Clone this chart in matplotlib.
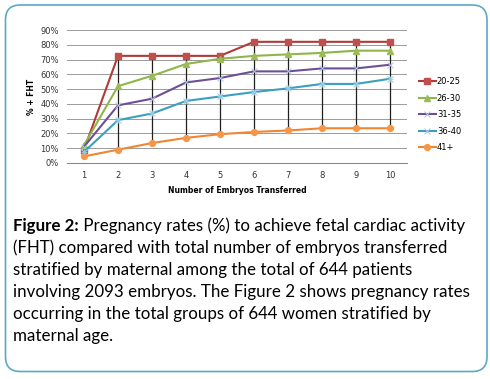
import matplotlib
matplotlib.use("Agg")
import matplotlib.pyplot as plt
from matplotlib.patches import FancyBboxPatch
import numpy as np

categories = [1, 2, 3, 4, 5, 6, 7, 8, 9, 10]
s_20_25 = [9, 72.5, 72.5, 72.5, 72.5, 82, 82, 82, 82, 82]
s_26_30 = [12, 52, 59, 67, 70.5, 72.5, 73.5, 74.5, 76, 76]
s_31_35 = [11, 39, 43.5, 54.5, 57.5, 62, 62, 64, 64, 66.5]
s_36_40 = [7.5, 29, 33.5, 42, 45, 48, 50.5, 53.5, 53.5, 57]
s_41 = [4.5, 9, 13.5, 17, 19.5, 21, 22, 23.5, 23.5, 23.5]
series_names = ["20-25", "26-30", "31-35", "36-40", "41+"]
yticks = [0, 10, 20, 30, 40, 50, 60, 70, 80, 90]

caption_bold = "Figure 2:"
caption_lines = [
    " Pregnancy rates (%) to achieve fetal cardiac activity",
    "(FHT) compared with total number of embryos transferred",
    "stratified by maternal among the total of 644 patients",
    "involving 2093 embryos. The Figure 2 shows pregnancy rates",
    "occurring in the total groups of 644 women stratified by",
    "maternal age.",
]

W, H = 490, 379
fig = plt.figure(figsize=(W / 100, H / 100), dpi=100)
fig.patch.set_facecolor("white")

# rounded border
border = FancyBboxPatch((5.5 / W, 7.5 / H), (487 - 5.5) / W, (374 - 7.5) / H,
                        boxstyle="round,pad=0,rounding_size=0.03",
                        transform=fig.transFigure, facecolor="white",
                        edgecolor="#5aaac4", linewidth=1.2, zorder=-5,
                        mutation_aspect=W / H)
fig.patches.append(border)

ax = fig.add_axes([67 / W, 1 - 163 / H, (407 - 67) / W, (163 - 30) / H])
ax.set_zorder(2)
ax.patch.set_alpha(0)
x = np.arange(len(categories))

data = [s_20_25, s_26_30, s_31_35, s_36_40, s_41]
colors = ["#b03a38", "#8fb64a", "#6e4f96", "#3aa0bd", "#ef8633"]
mcolors = ["#c0504d", "#9bbb59", "#8064a2", "#4bacc6", "#f79646"]
markers = ["s", "^", "x", "x", "o"]

# high-low lines
arr = np.array(data)
ax.vlines(x, arr.min(axis=0), arr.max(axis=0), colors="#202020", linewidth=0.9, zorder=2)

for d, c, mc, m, n in zip(data, colors, mcolors, markers, series_names):
    kw = dict(markersize=4.2)
    if m in ("x",):
        kw = dict(markersize=4.5, markeredgewidth=0.7)
    ax.plot(x, d, color=c, linewidth=1.5, marker=m, markerfacecolor=mc,
            markeredgecolor=mc if m != "x" else "#b0c8e0", label=n, zorder=3, **kw)
# asterisk-like marker for 36-40 overlay
ax.plot(x, s_36_40, linestyle="none", marker="+", markersize=4.5,
        markeredgecolor="#8fd0e6", markeredgewidth=0.6, zorder=4)

ax.set_xlim(-0.5, len(categories) - 0.5)
ax.set_ylim(0, 90)
ax.set_yticks(yticks)
ax.set_yticklabels([f"{v}%" for v in yticks])
ax.set_xticks(x)
ax.set_xticklabels([str(c) for c in categories])
ax.grid(axis="y", color="#9a9a9a", linewidth=0.7)
ax.set_axisbelow(True)
for s in ["top", "right", "left"]:
    ax.spines[s].set_visible(False)
ax.spines["bottom"].set_color("#8a8a8a")
ax.tick_params(axis="both", length=0, labelsize=6, colors="#333333", pad=6)
ax.tick_params(axis="y", pad=6)
ax.set_ylabel("% + FHT", fontsize=5.5, fontweight="bold", labelpad=3)
ax.set_xlabel("Number of Embryos Transferred", fontsize=5.5, fontweight="bold", labelpad=4)

leg = ax.legend(loc="upper left", bbox_to_anchor=(1.035, 0.645), frameon=False,
                fontsize=6, handlelength=2.0, labelspacing=0.9, handletextpad=0.15,
                borderaxespad=0, borderpad=0)

# caption
fs = 12.2
y0 = 1 - 230.5 / H
dy = 22 / H
t = fig.text(13 / W, y0, caption_bold, fontsize=fs, fontweight="bold",
             family="Lato", va="baseline")
fig.canvas.draw()
bb = t.get_window_extent()
fig.text(bb.x1 / W, y0, caption_lines[0], fontsize=fs, family="Lato", va="baseline")
for i, line in enumerate(caption_lines[1:], start=1):
    fig.text(13 / W, y0 - i * dy, line, fontsize=fs, family="Lato", va="baseline")

fig.savefig("out.png", dpi=100)
